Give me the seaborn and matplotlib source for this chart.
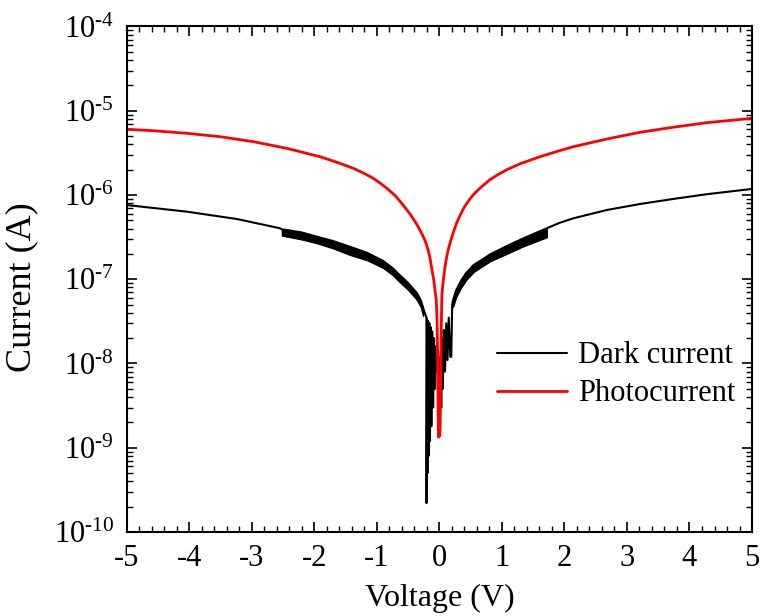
import numpy as np
import pandas as pd
import matplotlib
matplotlib.use("Agg")
import matplotlib.pyplot as plt
import seaborn as sns
from matplotlib.ticker import MultipleLocator, LogLocator, FixedLocator, FixedFormatter, NullFormatter

# ---------------- data ----------------
photo_V = [-5.00, -4.57, -4.04, -3.51, -2.98, -2.44, -1.91, -1.65, -1.38, -1.20,
           -1.06, -0.95, -0.84, -0.70, -0.58, -0.47, -0.42, -0.37, -0.32, -0.27,
           -0.22, -0.18, -0.15, -0.126, -0.09, -0.07, -0.05, -0.037, -0.030, -0.022,
           -0.014, -0.004, 0.0105, 0.020, 0.030, 0.040, 0.06, 0.09, 0.12, 0.14,
           0.18, 0.22, 0.27, 0.33, 0.40, 0.47, 0.54, 0.62, 0.70, 0.81,
           0.93, 1.08, 1.30, 1.61, 1.90, 2.14, 2.68, 3.21, 3.74, 4.27, 5.00]
photo_I = [6.03e-6, 5.79e-6, 5.40e-6, 4.92e-6, 4.30e-6, 3.58e-6, 2.85e-6, 2.46e-6, 2.08e-6, 1.80e-6,
           1.58e-6, 1.387e-6, 1.20e-6, 9.73e-7, 7.60e-7, 5.95e-7, 5.26e-7, 4.59e-7, 3.95e-7, 3.35e-7,
           2.77e-7, 2.22e-7, 1.79e-7, 1.40e-7, 9.80e-8, 7.45e-8, 5.67e-8, 3.28e-8, 1.45e-8, 3.69e-9,
           1.34e-9, 1.34e-9, 1.62e-9, 6.37e-9, 2.50e-8, 6.50e-8, 9.27e-8, 1.41e-7, 1.89e-7, 2.22e-7,
           2.84e-7, 3.54e-7, 4.53e-7, 5.71e-7, 7.20e-7, 8.60e-7, 1.00e-6, 1.15e-6, 1.30e-6, 1.52e-6,
           1.73e-6, 2.00e-6, 2.36e-6, 2.85e-6, 3.32e-6, 3.74e-6, 4.62e-6, 5.55e-6, 6.37e-6, 7.21e-6, 8.13e-6]

dark_V = [-5.00, -4.04, -3.24, -2.55,
          -2.52, -2.20, -1.96, -1.70, -1.43, -1.15, -0.90, -0.75, -0.63, -0.50, -0.36, -0.30, -0.26,
          -0.23, -0.212, -0.205, -0.205, -0.198, -0.19, -0.18, -0.172, -0.16, -0.15, -0.14,
          -0.128, -0.115, -0.10, -0.085, -0.07, -0.055, -0.04, -0.02, 0.0, 0.01,
          0.02, 0.03, 0.04, 0.055, 0.07, 0.09, 0.11, 0.13, 0.15, 0.175, 0.19, 0.205,
          0.22, 0.27, 0.35, 0.43, 0.55, 0.70, 0.81, 1.08, 1.34, 1.72,
          1.92, 2.14, 2.68, 3.21, 3.74, 4.27, 5.00]
dark_I = [7.60e-7, 6.34e-7, 5.19e-7, 4.03e-7,
          3.92e-7, 3.59e-7, 3.20e-7, 2.84e-7, 2.43e-7, 2.05e-7, 1.65e-7, 1.36e-7, 1.11e-7, 9.02e-8, 6.87e-8, 5.67e-8, 4.56e-8,
          3.9e-8, 3.6e-8, 3.4e-8, 2.2e-10, 3.4e-8, 5.0e-10, 3.2e-8, 8.0e-10, 3.0e-8, 1.2e-9, 2.7e-8,
          1.8e-9, 2.4e-8, 3.0e-9, 2.0e-8, 5.0e-9, 1.6e-8, 8.0e-9, 1.4e-8, 2.0e-9, 1.4e-9,
          1.2e-8, 3.0e-9, 2.0e-8, 5.0e-9, 2.5e-8, 8.0e-9, 3.0e-8, 1.1e-8, 3.5e-8, 1.2e-8, 1.2e-8, 5.0e-8,
          5.67e-8, 7.45e-8, 9.66e-8, 1.19e-7, 1.48e-7, 1.74e-7, 1.97e-7, 2.48e-7, 3.05e-7, 4.03e-7,
          4.66e-7, 5.28e-7, 6.64e-7, 7.82e-7, 8.97e-7, 1.02e-6, 1.18e-6]

# noisy stretches of the dark current (upper / lower envelope)
band_left_V = [-2.52, -2.20, -1.96, -1.70, -1.43, -1.15, -0.90, -0.75, -0.63, -0.50, -0.36, -0.30, -0.26]
band_left_hi = [3.92e-7, 3.59e-7, 3.20e-7, 2.84e-7, 2.43e-7, 2.05e-7, 1.65e-7, 1.36e-7, 1.11e-7, 9.02e-8, 6.87e-8, 5.67e-8, 4.56e-8]
band_left_lo = [3.29e-7, 2.96e-7, 2.67e-7, 2.32e-7, 1.94e-7, 1.67e-7, 1.36e-7, 1.12e-7, 9.15e-8, 7.45e-8, 5.67e-8, 4.69e-8, 3.66e-8]
band_right_V = [0.22, 0.27, 0.35, 0.43, 0.55, 0.70, 0.81, 1.08, 1.34, 1.72]
band_right_hi = [5.67e-8, 7.45e-8, 9.66e-8, 1.19e-7, 1.48e-7, 1.74e-7, 1.97e-7, 2.48e-7, 3.05e-7, 4.03e-7]
band_right_lo = [4.69e-8, 6.15e-8, 7.98e-8, 9.80e-8, 1.22e-7, 1.44e-7, 1.63e-7, 2.00e-7, 2.45e-7, 3.15e-7]

x_ticks = [-5, -4, -3, -2, -1, 0, 1, 2, 3, 4, 5]
x_ticklabels = ["-5", "-4", "-3", "-2", "-1", "0", "1", "2", "3", "4", "5"]
y_ticks = [1e-10, 1e-9, 1e-8, 1e-7, 1e-6, 1e-5, 1e-4]
y_ticklabels = [r"$10^{\text{-}10}$", r"$10^{\text{-}9}$", r"$10^{\text{-}8}$", r"$10^{\text{-}7}$",
                r"$10^{\text{-}6}$", r"$10^{\text{-}5}$", r"$10^{\text{-}4}$"]
series_labels = ["Dark current", "Photocurrent"]

# ---------------- style ----------------
sns.set_theme(style="ticks")
plt.rcParams['font.family'] = ['Liberation Serif', 'DejaVu Serif']
plt.rcParams['mathtext.fontset'] = 'custom'
plt.rcParams['mathtext.rm'] = 'Liberation Serif'
plt.rcParams['mathtext.it'] = 'Liberation Serif:italic'
plt.rcParams['axes.unicode_minus'] = False
for k in ['text.color', 'axes.labelcolor', 'xtick.color', 'ytick.color', 'axes.edgecolor']:
    plt.rcParams[k] = 'black'

fig = plt.figure(figsize=(7.61, 6.16), dpi=100)
ax = fig.add_axes([0.1665, 0.1364, 0.8217, 0.8206])

dark_df = pd.DataFrame({"V": dark_V, "I": dark_I})
photo_df = pd.DataFrame({"V": photo_V, "I": photo_I})

ax.fill_between(band_left_V, band_left_lo, band_left_hi, color="black", linewidth=0.8)
ax.fill_between(band_right_V, band_right_lo, band_right_hi, color="black", linewidth=0.8)
sns.lineplot(data=dark_df, x="V", y="I", ax=ax, color="black", linewidth=1.5,
             sort=False, estimator=None, label=series_labels[0])
sns.lineplot(data=photo_df, x="V", y="I", ax=ax, color="#ff0000", linewidth=2.0,
             sort=False, estimator=None, label=series_labels[1])

ax.set_yscale("log")
ax.set_xlim(-5, 5)
ax.set_ylim(1e-10, 1e-4)

ax.xaxis.set_major_locator(FixedLocator(x_ticks))
ax.set_xticklabels(x_ticklabels)
ax.xaxis.set_minor_locator(MultipleLocator(0.2))
ax.yaxis.set_major_locator(FixedLocator(y_ticks))
ax.yaxis.set_major_formatter(FixedFormatter(y_ticklabels))
ax.yaxis.set_minor_locator(LogLocator(base=10, subs=np.arange(2, 10), numticks=20))
ax.yaxis.set_minor_formatter(NullFormatter())

for s in ax.spines.values():
    s.set_visible(True)
    s.set_linewidth(1.5)
    s.set_color("black")

ax.tick_params(which="both", direction="in", top=True, right=True, color="black")
ax.tick_params(which="major", length=7, width=1.2, labelsize=22, pad=9)
ax.tick_params(which="minor", length=4, width=1.0)

ax.set_xlabel("Voltage (V)", fontsize=23)
ax.set_ylabel("Current (A)", fontsize=26)
ax.xaxis.set_label_coords(0.5, -0.103)
ax.yaxis.set_label_coords(-0.142, 0.484)

ax.legend(loc="center left", bbox_to_anchor=(0.6531, 0.3914), bbox_transform=fig.transFigure,
          frameon=False, fontsize=22, handlelength=2.3, handletextpad=0.35,
          labelspacing=0.3, borderpad=0, borderaxespad=0)

fig.savefig("out.png", dpi=100)
